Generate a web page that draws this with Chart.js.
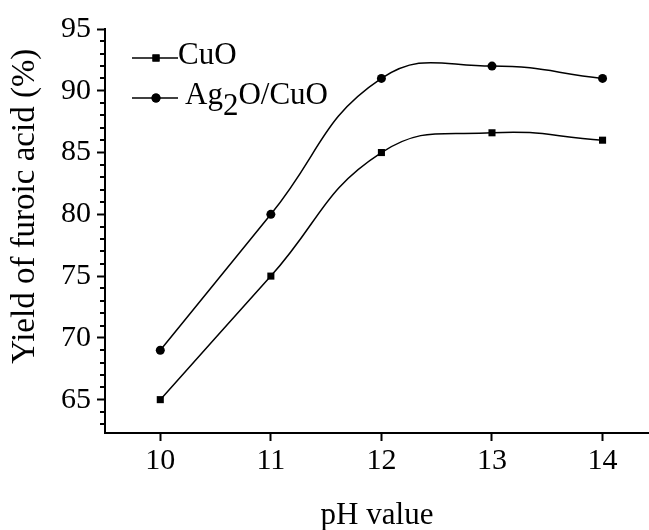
<!DOCTYPE html>
<html>
<head>
<meta charset="utf-8">
<script src="https://cdn.jsdelivr.net/npm/chart.js@4.4.1/dist/chart.umd.min.js"></script>
<style>
html,body{margin:0;padding:0;background:#fff;}
#wrap{width:649px;height:530px;}
</style>
</head>
<body>
<div id="wrap"><canvas id="c" width="649" height="530"></canvas></div>
<script>
// ---- data ----
const phValues = [10, 11, 12, 13, 14];
const cuoYield = [65, 75, 85, 86.6, 86];
const agCuoYield = [69, 80, 91, 92, 91];
const xTickValues = [10, 11, 12, 13, 14];
const yMajorTicks = [65, 70, 75, 80, 85, 90, 95];
const yMinorTicks = [63, 64, 66, 67, 68, 69, 71, 72, 73, 74, 76, 77, 78, 79, 81, 82, 83, 84, 86, 87, 88, 89, 91, 92, 93, 94];
const seriesNames = ['CuO', 'Ag2O/CuO'];
const xTitle = 'pH value';
const yTitle = 'Yield of furoic acid (%)';

const FONT = "'Liberation Serif', 'Times New Roman', serif";

const minorTickPlugin = {
  id: 'minorTicks',
  afterDraw(chart) {
    const s = chart.scales.y;
    const ctx = chart.ctx;
    ctx.save();
    ctx.strokeStyle = '#000';
    ctx.lineWidth = 2;
    yMinorTicks.forEach(v => {
      const y = Math.round(s.getPixelForValue(v));
      ctx.beginPath();
      ctx.moveTo(s.right, y);
      ctx.lineTo(s.right - 5, y);
      ctx.stroke();
    });
    ctx.restore();
  }
};

const legendPlugin = {
  id: 'insideLegend',
  afterDraw(chart) {
    const ctx = chart.ctx;
    const rows = [58, 98];
    ctx.save();
    chart.data.datasets.forEach((ds, i) => {
      const y = rows[i];
      ctx.strokeStyle = '#000';
      ctx.lineWidth = 1.5;
      ctx.beginPath();
      ctx.moveTo(132, y);
      ctx.lineTo(178, y);
      ctx.stroke();
      ctx.fillStyle = '#000';
      Chart.helpers.drawPoint(ctx, {pointStyle: ds.pointStyle, radius: ds.pointRadius, borderWidth: 0}, 156, y);
      ctx.fill();
      ctx.fillStyle = '#000';
      ctx.textBaseline = 'alphabetic';
      ctx.textAlign = 'left';
      ctx.font = "31px " + FONT;
      const name = ds.label;
      if (name.indexOf('2') >= 0) {
        const parts = name.split('2');
        let x = 185;
        const base = y + 6;
        ctx.fillText(parts[0], x, base);
        x += ctx.measureText(parts[0]).width;
        ctx.fillText('2', x, base + 11);
        x += ctx.measureText('2').width;
        ctx.fillText(parts[1], x, base);
      } else {
        ctx.fillText(name, 178, y + 6);
      }
    });
    ctx.restore();
  }
};

new Chart(document.getElementById('c').getContext('2d'), {
  type: 'line',
  data: {
    datasets: [
      {
        label: seriesNames[0],
        data: phValues.map((x, i) => ({x: x, y: cuoYield[i]})),
        borderColor: '#000',
        backgroundColor: '#000',
        borderWidth: 1.5,
        pointStyle: 'rect',
        pointRadius: 5,
        pointBorderWidth: 0,
        pointBackgroundColor: '#000',
        tension: 0.45,
        fill: false
      },
      {
        label: seriesNames[1],
        data: phValues.map((x, i) => ({x: x, y: agCuoYield[i]})),
        borderColor: '#000',
        backgroundColor: '#000',
        borderWidth: 1.5,
        pointStyle: 'circle',
        pointRadius: 4.5,
        pointBorderWidth: 0,
        pointBackgroundColor: '#000',
        tension: 0.45,
        fill: false
      }
    ]
  },
  options: {
    responsive: false,
    animation: false,
    devicePixelRatio: 1,
    layout: {autoPadding: false, padding: {top: 29, right: 0, left: 0, bottom: 0}},
    plugins: {legend: {display: false}, tooltip: {enabled: false}},
    scales: {
      x: {
        type: 'linear',
        min: 9.5,
        max: 14.42,
        afterBuildTicks: s => { s.ticks = xTickValues.map(v => ({value: v})); },
        afterFit: s => { s.height = 97; s.paddingRight = 0; s.paddingLeft = 0; },
        ticks: {
          color: '#000',
          font: {family: FONT, size: 30},
          padding: 2,
          callback: v => String(v)
        },
        grid: {drawOnChartArea: false, drawTicks: true, tickLength: 8, tickColor: '#000', tickWidth: 2},
        border: {display: true, color: '#000', width: 2},
        title: {display: true, text: xTitle, color: '#000', font: {family: FONT, size: 31, lineHeight: 0.93}, padding: {top: 0, bottom: 0}}
      },
      y: {
        type: 'linear',
        min: 62.3,
        max: 95,
        afterBuildTicks: s => { s.ticks = yMajorTicks.map(v => ({value: v})); },
        afterFit: s => { s.width = 105; },
        ticks: {
          color: '#000',
          font: {family: FONT, size: 30},
          padding: 6,
          callback: v => String(v)
        },
        grid: {drawOnChartArea: false, drawTicks: true, tickLength: 8, tickColor: '#000', tickWidth: 2},
        border: {display: true, color: '#000', width: 2},
        title: {display: true, text: '      ' + yTitle, color: '#000', font: {family: FONT, size: 33}, padding: {top: 6, bottom: 0}}
      }
    }
  },
  plugins: [minorTickPlugin, legendPlugin]
});
</script>
</body>
</html>
